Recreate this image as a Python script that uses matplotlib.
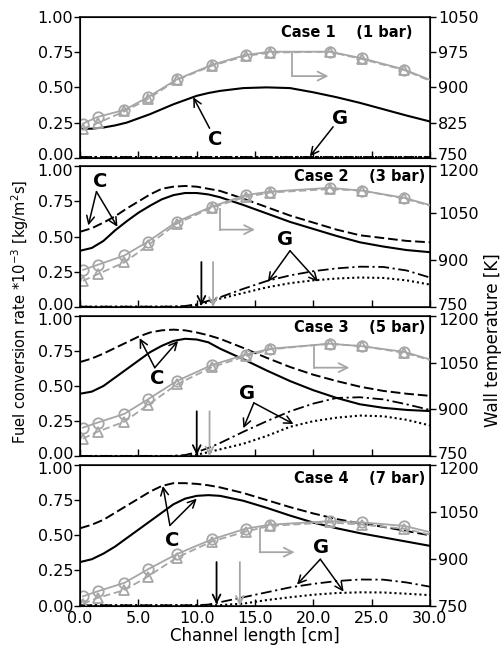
import matplotlib.pyplot as plt
import matplotlib.transforms as mtransforms
from matplotlib.ticker import FormatStrFormatter

# channel positions for the conversion rate curves [cm]
x_curve = [0, 1, 2, 3, 4, 5, 6, 7, 8, 9, 10, 11, 12, 14, 16, 18, 20, 22, 24, 26, 28, 30]

# C curves (solid / dashed)
c_solid_1 = [0.205, 0.207, 0.215, 0.23, 0.25, 0.28, 0.31, 0.345, 0.38, 0.41, 0.44, 0.46, 0.475,
             0.495, 0.50, 0.495, 0.465, 0.43, 0.39, 0.345, 0.30, 0.258]
c_dash_1 = None
c_solid_2 = [0.40, 0.42, 0.47, 0.545, 0.61, 0.67, 0.72, 0.765, 0.795, 0.81, 0.81, 0.80, 0.78,
             0.725, 0.665, 0.605, 0.555, 0.505, 0.46, 0.43, 0.405, 0.39]
c_dash_2 = [0.535, 0.56, 0.60, 0.645, 0.70, 0.75, 0.80, 0.84, 0.855, 0.86, 0.855, 0.84, 0.825,
            0.77, 0.71, 0.65, 0.60, 0.55, 0.51, 0.49, 0.47, 0.46]
c_solid_3 = [0.445, 0.46, 0.50, 0.56, 0.62, 0.68, 0.74, 0.785, 0.82, 0.835, 0.83, 0.81, 0.765,
             0.69, 0.61, 0.535, 0.47, 0.415, 0.37, 0.345, 0.33, 0.322]
c_dash_3 = [0.67, 0.695, 0.73, 0.77, 0.81, 0.85, 0.88, 0.895, 0.90, 0.895, 0.88, 0.86, 0.835,
            0.77, 0.70, 0.635, 0.58, 0.535, 0.495, 0.465, 0.445, 0.43]
c_solid_4 = [0.31, 0.33, 0.37, 0.42, 0.48, 0.54, 0.60, 0.66, 0.72, 0.76, 0.78, 0.785, 0.78,
             0.745, 0.695, 0.64, 0.59, 0.55, 0.515, 0.485, 0.455, 0.425]
c_dash_4 = [0.55, 0.575, 0.61, 0.66, 0.71, 0.76, 0.81, 0.85, 0.87, 0.87, 0.865, 0.855, 0.84,
            0.80, 0.75, 0.70, 0.655, 0.615, 0.585, 0.56, 0.53, 0.50]

# G curves (dash-dot / dotted)
g_dd_1 = [0.004] * 22
g_dot_1 = [0.004] * 22
g_dd_2 = [0.003, 0.003, 0.003, 0.003, 0.003, 0.003, 0.003, 0.003, 0.004, 0.008, 0.02, 0.045, 0.07,
          0.13, 0.185, 0.225, 0.255, 0.275, 0.287, 0.285, 0.26, 0.21]
g_dot_2 = [0.003, 0.003, 0.003, 0.003, 0.003, 0.003, 0.003, 0.003, 0.003, 0.005, 0.015, 0.035, 0.06,
           0.10, 0.14, 0.17, 0.19, 0.203, 0.21, 0.207, 0.19, 0.16]
g_dd_3 = [0.003, 0.003, 0.003, 0.003, 0.003, 0.003, 0.003, 0.003, 0.004, 0.01, 0.03, 0.06, 0.095,
          0.175, 0.25, 0.32, 0.375, 0.415, 0.42, 0.405, 0.37, 0.33]
g_dot_3 = [0.003, 0.003, 0.003, 0.003, 0.003, 0.003, 0.003, 0.003, 0.003, 0.004, 0.012, 0.03, 0.05,
           0.09, 0.145, 0.21, 0.25, 0.275, 0.29, 0.285, 0.26, 0.22]
g_dd_4 = [0.003, 0.003, 0.003, 0.003, 0.003, 0.003, 0.003, 0.003, 0.003, 0.003, 0.004, 0.008, 0.025,
          0.06, 0.095, 0.13, 0.155, 0.175, 0.186, 0.185, 0.165, 0.135]
g_dot_4 = [0.003, 0.003, 0.003, 0.003, 0.003, 0.003, 0.003, 0.003, 0.003, 0.003, 0.003, 0.003, 0.004,
           0.015, 0.04, 0.06, 0.078, 0.09, 0.095, 0.094, 0.085, 0.075]

# wall temperatures [K] (last point = channel end, no marker)
x_temp = [0.25, 1.5, 3.8, 5.8, 8.3, 11.3, 14.2, 16.3, 21.4, 24.2, 27.8, 30.0]
t_circ_1 = [823, 837, 852, 879, 917, 948, 969, 976, 976, 962, 938, 916]
t_tri_1 = [812, 824, 849, 875, 916, 946, 967, 974, 976, 960, 937, 914]
t_circ_2 = [869, 885, 915, 959, 1023, 1071, 1108, 1119, 1131, 1122, 1099, 1076]
t_tri_2 = [834, 855, 893, 947, 1017, 1068, 1102, 1116, 1127, 1122, 1097, 1074]
t_circ_3 = [842, 858, 886, 932, 991, 1042, 1075, 1094, 1110, 1102, 1084, 1060]
t_tri_3 = [807, 829, 861, 914, 980, 1035, 1070, 1092, 1110, 1102, 1081, 1058]
t_circ_4 = [780, 796, 823, 866, 915, 962, 996, 1009, 1020, 1016, 1005, 985]
t_tri_4 = [756, 775, 800, 843, 904, 955, 987, 1005, 1016, 1009, 996, 977]

case_labels = ["Case 1    (1 bar)", "Case 2    (3 bar)", "Case 3    (5 bar)", "Case 4    (7 bar)"]
x_ticks = [0, 5, 10, 15, 20, 25, 30]
y_ticks = [0.0, 0.25, 0.5, 0.75, 1.0]
t_ticks_1 = [750, 825, 900, 975, 1050]
t_ticks = [750, 900, 1050, 1200]

panels = [
    (c_solid_1, c_dash_1, g_dd_1, g_dot_1, t_circ_1, t_tri_1),
    (c_solid_2, c_dash_2, g_dd_2, g_dot_2, t_circ_2, t_tri_2),
    (c_solid_3, c_dash_3, g_dd_3, g_dot_3, t_circ_3, t_tri_3),
    (c_solid_4, c_dash_4, g_dd_4, g_dot_4, t_circ_4, t_tri_4),
]

# annotation layout per panel (data coords of the left axis)
c_text = [(11.6, 0.13), (1.7, 0.89), (6.6, 0.55), (7.9, 0.46)]
c_tail = [(11.1, 0.21), (1.4, 0.82), (6.4, 0.63), (7.7, 0.57)]
c_heads = [[(9.7, 0.43)], [(0.7, 0.58), (3.2, 0.57)], [(5.1, 0.84), (8.4, 0.82)], [(7.1, 0.85), (10.0, 0.76)]]
g_text = [(22.3, 0.28), (17.6, 0.48), (14.3, 0.45), (20.7, 0.415)]
g_tail = [(21.7, 0.22), (18.0, 0.40), (14.9, 0.38), (20.6, 0.33)]
g_heads = [[(19.7, 0.01)], [(16.1, 0.18), (20.4, 0.18)], [(14.0, 0.20), (18.3, 0.23)], [(18.6, 0.15), (22.6, 0.10)]]
# gray "to right axis" arrow: x0, x1, y_top, y_corner
gray_arrow = [(18.2, 21.3, 0.75, 0.58), (12.0, 15.0, 0.70, 0.55), (20.1, 23.1, 0.78, 0.63), (15.4, 18.4, 0.55, 0.38)]
# vertical marks: x black, x gray, y top
v_marks = [None, (10.4, 11.4, 0.32), (10.0, 11.1, 0.32), (11.7, 13.7, 0.31)]
case_pos = [(0.951, 0.89), (0.986, 0.925), (0.986, 0.913), (0.986, 0.906)]

gray = "#a6a6a6"
plt.rcParams['font.family'] = 'DejaVu Sans'

fig, axes = plt.subplots(4, 1, figsize=(5.04, 6.52), dpi=100, sharex=True)
fig.subplots_adjust(left=0.159, right=0.853, top=0.974, bottom=0.071, hspace=0.06)


def nudge(tick_label, dy):
    # shift a tick label up/down by dy points
    tick_label.set_transform(tick_label.get_transform() +
                             mtransforms.ScaledTranslation(0, dy / 72.0, fig.dpi_scale_trans))


for i, ax in enumerate(axes):
    cs, cd, gdd, gdot, tc, tt = panels[i]
    ax.plot(x_curve, gdd, color='k', lw=1.3, dashes=(6, 2, 1.2, 2))
    ax.plot(x_curve, gdot, color='k', lw=1.5, dashes=(1, 1.4))
    ax.plot(x_curve, cs, color='k', lw=1.5)
    if cd is not None:
        ax.plot(x_curve, cd, color='k', lw=1.4, dashes=(5, 2))

    ax.set_xlim(0, 30)
    ax.set_ylim(0, 1)
    ax.set_xticks(x_ticks)
    ax.set_yticks(y_ticks)
    ax.yaxis.set_major_formatter(FormatStrFormatter('%.2f'))
    ax.xaxis.set_major_formatter(FormatStrFormatter('%.1f'))
    ax.tick_params(axis='x', direction='in', length=5, labelsize=11.5, width=1)
    ax.tick_params(axis='y', direction='out', length=4, labelsize=11.5, width=1, pad=1)
    for s in ax.spines.values():
        s.set_linewidth(1.1)

    tw = ax.twinx()
    tw.plot(x_temp, tc, color=gray, lw=1.3, marker='o', ms=7.5, mfc='none', mec=gray, mew=1.3,
            markevery=list(range(11)))
    tw.plot(x_temp, tt, color=gray, lw=1.3, dashes=(4, 2), marker='^', ms=7, mfc='none', mec=gray,
            mew=1.3, markevery=list(range(11)))
    if i == 0:
        tw.set_ylim(750, 1050)
        tw.set_yticks(t_ticks_1)
    else:
        tw.set_ylim(750, 1200)
        tw.set_yticks(t_ticks)
    tw.tick_params(axis='y', direction='out', length=4, labelsize=11.5, width=1, pad=2)

    # keep stacked end labels apart, as in the original
    lt = ax.yaxis.get_major_ticks()
    rt = tw.yaxis.get_major_ticks()
    if i < 3:
        nudge(lt[0].label1, 2.5)
        nudge(rt[0].label2, 2.5)
    if i > 0:
        nudge(lt[-1].label1, -2.5)
        nudge(rt[-1].label2, -2.5)

    # case label
    ax.text(case_pos[i][0], case_pos[i][1], case_labels[i], transform=ax.transAxes,
            ha='right', va='center', fontsize=10.5, fontweight='bold')

    # C and G labels with arrows
    ax.text(c_text[i][0], c_text[i][1], "C", ha='center', va='center', fontsize=14, fontweight='bold')
    for h in c_heads[i]:
        ax.annotate("", xy=h, xytext=c_tail[i],
                    arrowprops=dict(arrowstyle='->', color='k', lw=1.1, shrinkA=0, shrinkB=0,
                                    mutation_scale=14))
    ax.text(g_text[i][0], g_text[i][1], "G", ha='center', va='center', fontsize=14, fontweight='bold')
    for h in g_heads[i]:
        ax.annotate("", xy=h, xytext=g_tail[i],
                    arrowprops=dict(arrowstyle='->', color='k', lw=1.1, shrinkA=0, shrinkB=0,
                                    mutation_scale=14))

    # gray arrow pointing to the right axis
    x0, x1, ytop, ycor = gray_arrow[i]
    ax.plot([x0, x0], [ytop, ycor], color=gray, lw=1.3)
    ax.annotate("", xy=(x1, ycor), xytext=(x0, ycor),
                arrowprops=dict(arrowstyle='->', color=gray, lw=1.3, shrinkA=0, shrinkB=0,
                                mutation_scale=16))

    # vertical marks
    if v_marks[i] is not None:
        xb, xg, yt = v_marks[i]
        ax.annotate("", xy=(xb, 0.01), xytext=(xb, yt),
                    arrowprops=dict(arrowstyle='->', color='k', lw=1.3, shrinkA=0, shrinkB=0,
                                    mutation_scale=14))
        ax.annotate("", xy=(xg, 0.0), xytext=(xg, yt),
                    arrowprops=dict(arrowstyle='->', color=gray, lw=1.3, shrinkA=0, shrinkB=0,
                                    mutation_scale=14))

axes[-1].set_xlabel("Channel length [cm]", fontsize=12, labelpad=1)
fig.text(0.04, 0.522, "Fuel conversion rate *10$^{-3}$ [kg/m$^2$s]", rotation=90,
         ha='center', va='center', fontsize=10.5)
fig.text(0.978, 0.479, "Wall temperature [K]", rotation=90, ha='center', va='center', fontsize=12)

fig.savefig("out.png", dpi=100)
